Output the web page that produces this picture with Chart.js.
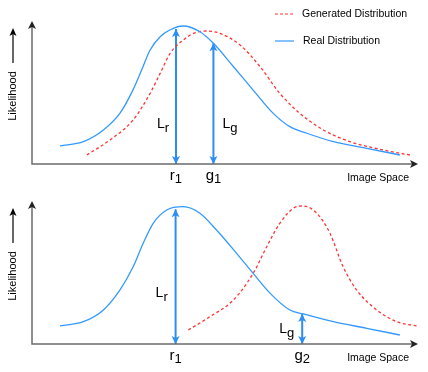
<!DOCTYPE html>
<html>
<head>
<meta charset="utf-8">
<script src="https://cdn.jsdelivr.net/npm/chart.js@4.4.1/dist/chart.umd.min.js"></script>
<style>
  body { margin: 0; background: #fff; }
  .panel { position: absolute; left: 0; width: 428px; height: 186px; }
</style>
</head>
<body>
<div class="panel" style="top:0"><canvas id="topChart" width="428" height="186"></canvas></div>
<div class="panel" style="top:186px"><canvas id="bottomChart" width="428" height="186"></canvas></div>
<script>
// Top panel: real vs generated distribution (close together)
const topRealX = [7.25, 13.3, 18.5, 22.8, 26.2, 28.4, 30.6, 33.2, 36.6, 39.2, 43.5, 47, 52.2, 57.3, 62.5, 66.8, 71.2, 78.1, 86.7, 95.3];
const topRealY = [12.6, 15.6, 23.8, 35.5, 52, 65.7, 79.7, 89, 94.9, 96.5, 92.5, 84.4, 68, 51.7, 35.4, 26.1, 21.5, 15.6, 11, 6.3];
const topGenX = [14.2, 20.2, 26.2, 30.6, 33.2, 35.8, 39.2, 42, 45, 48.7, 53.9, 59.1, 64.2, 69.4, 75.5, 82.4, 91, 97.9];
const topGenY = [6.3, 16.8, 30.8, 49.4, 63.4, 77.4, 86.7, 91.5, 93, 91.4, 83.2, 68, 49.4, 35.4, 23.8, 15.6, 9.8, 6.3];
const topArrowX = [37.3, 47];
const topArrowY = [94.4, 84.4];
const topArrowText = [['L', 'r'], ['L', 'g']];
const topTickText = [['r', '1'], ['g', '1']];

// Bottom panel: generated distribution shifted away
const botRealX = [7.25, 13.3, 18.5, 22.8, 26.2, 28.8, 31.4, 34.9, 39.2, 43.5, 47.8, 53, 57.3, 61.7, 66.8, 70.3, 78.1, 86.7, 95.3];
const botRealY = [12.6, 15.6, 23.8, 37.8, 54, 70.4, 84.4, 93.7, 96, 91.4, 79.7, 63.4, 49.4, 35.4, 23.8, 21, 15.6, 11, 6.3];
const botGenX = [40.5, 46.1, 52.2, 57.3, 60.8, 64.2, 67.7, 70.3, 73.8, 77.2, 80.6, 84.1, 89.3, 94.5, 99.7];
const botGenY = [9.8, 19.1, 30.8, 49.4, 68, 84.4, 94.9, 96.5, 91.4, 77.4, 54, 37.8, 23.8, 15.6, 12.6];
const botArrowX = [37.2, 70];
const botArrowY = [94.2, 21];
const botArrowText = [['L', 'r'], ['L', 'g']];
const botTickText = [['r', '1'], ['g', '2']];

const legendText = ['Generated Distribution', 'Real Distribution'];
const xAxisTitle = 'Image Space';
const yAxisTitle = 'Likelihood';

const BLUE = '#3399ff';
const ARROW_BLUE = '#2b8ef5';
const RED = '#ff3333';
const AXIS = '#6b6b6b';
const FONT = 'Arial, "Liberation Sans", sans-serif';

function points(xs, ys) {
  return xs.map((x, i) => ({ x: x, y: ys[i] }));
}

function arrowSets(xs, ys) {
  return xs.map((x, i) => ({
    data: [{ x: x, y: 0 }, { x: x, y: ys[i] }],
    borderColor: ARROW_BLUE,
    borderWidth: 2,
    pointRadius: 0,
    clip: false,
    arrow: true
  }));
}

function head(ctx, x, y, dir, len, half, color) {
  // dir: 'up' | 'down' | 'right'
  ctx.fillStyle = color;
  ctx.beginPath();
  if (dir === 'up') {
    ctx.moveTo(x, y); ctx.lineTo(x - half, y + len); ctx.lineTo(x, y + len - 2); ctx.lineTo(x + half, y + len);
  } else if (dir === 'down') {
    ctx.moveTo(x, y); ctx.lineTo(x - half, y - len); ctx.lineTo(x, y - len + 2); ctx.lineTo(x + half, y - len);
  } else {
    ctx.moveTo(x, y); ctx.lineTo(x - len, y - half); ctx.lineTo(x - len + 2, y); ctx.lineTo(x - len, y + half);
  }
  ctx.closePath();
  ctx.fill();
}

function subText(ctx, main, sub, x, y, mainSize, subSize, drop, align) {
  ctx.font = mainSize + 'px ' + FONT;
  const w1 = ctx.measureText(main).width;
  ctx.font = subSize + 'px ' + FONT;
  const w2 = ctx.measureText(sub).width;
  let left = x;
  if (align === 'center') left = x - (w1 + w2) / 2;
  ctx.textAlign = 'left';
  ctx.textBaseline = 'alphabetic';
  ctx.fillStyle = '#000';
  ctx.font = mainSize + 'px ' + FONT;
  ctx.fillText(main, left, y);
  ctx.font = subSize + 'px ' + FONT;
  ctx.fillText(sub, left + w1, y + drop);
}

const diagramPlugin = {
  id: 'diagram',
  afterDatasetsDraw(chart) {
    const ctx = chart.ctx;
    chart.data.datasets.forEach((ds, i) => {
      if (!ds.arrow) return;
      const pts = chart.getDatasetMeta(i).data;
      head(ctx, pts[0].x, pts[0].y, 'down', 8, 4, ARROW_BLUE);
      head(ctx, pts[1].x, pts[1].y, 'up', 8, 4, ARROW_BLUE);
    });
  },
  afterDraw(chart, args, opts) {
    const ctx = chart.ctx;
    const a = chart.chartArea;
    const xs = chart.scales.x;
    const ys = chart.scales.y;
    ctx.save();

    // axes with arrow heads
    ctx.strokeStyle = AXIS;
    ctx.lineWidth = 1.5;
    ctx.beginPath();
    ctx.moveTo(a.left, a.top + 4);
    ctx.lineTo(a.left, a.bottom);
    ctx.lineTo(a.right - 4, a.bottom);
    ctx.stroke();
    head(ctx, a.left, a.top, 'up', 8, 4, '#222');
    head(ctx, a.right, a.bottom, 'right', 8, 4, '#222');

    // y axis title with arrow
    ctx.save();
    ctx.translate(13, a.top + 75);
    ctx.rotate(-Math.PI / 2);
    ctx.fillStyle = '#000';
    ctx.font = '11px ' + FONT;
    ctx.textAlign = 'center';
    ctx.textBaseline = 'middle';
    ctx.fillText(yAxisTitle, 0, 0);
    ctx.restore();
    ctx.strokeStyle = '#000';
    ctx.lineWidth = 1.2;
    ctx.beginPath();
    ctx.moveTo(13, a.top + 42);
    ctx.lineTo(13, a.top + 12);
    ctx.stroke();
    head(ctx, 13, a.top + 7, 'up', 8, 3.5, '#000');

    // x axis title
    ctx.fillStyle = '#000';
    ctx.font = '10.5px ' + FONT;
    ctx.textAlign = 'right';
    ctx.textBaseline = 'middle';
    ctx.fillText(xAxisTitle, a.right - 9, a.bottom + 14);

    // tick labels under the arrows, and L labels next to them
    opts.arrowX.forEach((v, i) => {
      const px = xs.getPixelForValue(v);
      subText(ctx, opts.ticks[i][0], opts.ticks[i][1], px, a.bottom + 16, 15, 13, 3, 'center');
      const lab = opts.labels[i];
      const lx = px + lab.dx;
      const ly = ys.getPixelForValue(lab.y);
      subText(ctx, opts.text[i][0], opts.text[i][1], lx, ly, 14, 13, 4, 'left');
    });

    // legend (top panel only)
    if (opts.legend) {
      ctx.lineWidth = 1.2;
      ctx.strokeStyle = RED;
      ctx.setLineDash([3, 2]);
      ctx.beginPath(); ctx.moveTo(275, 14); ctx.lineTo(294, 14); ctx.stroke();
      ctx.setLineDash([]);
      ctx.strokeStyle = BLUE;
      ctx.beginPath(); ctx.moveTo(275, 41); ctx.lineTo(294, 41); ctx.stroke();
      ctx.fillStyle = '#000';
      ctx.font = '10.5px ' + FONT;
      ctx.textAlign = 'left';
      ctx.textBaseline = 'middle';
      ctx.fillText(legendText[0], 302, 14);
      ctx.fillText(legendText[1], 303, 41);
    }
    ctx.restore();
  }
};

function makeChart(id, realX, realY, genX, genY, arrowX, arrowY, ticks, text, labels, padding, legend) {
  return new Chart(document.getElementById(id), {
    type: 'line',
    data: {
      datasets: [
        {
          data: points(realX, realY),
          borderColor: BLUE,
          borderWidth: 1.3,
          pointRadius: 0,
          cubicInterpolationMode: 'monotone',
          clip: false
        },
        {
          data: points(genX, genY),
          borderColor: RED,
          borderWidth: 1.3,
          borderDash: [3, 2.5],
          pointRadius: 0,
          cubicInterpolationMode: 'monotone',
          clip: false
        }
      ].concat(arrowSets(arrowX, arrowY))
    },
    options: {
      responsive: false,
      animation: false,
      devicePixelRatio: 1,
      layout: { padding: padding },
      scales: {
        x: { type: 'linear', min: 0, max: 100, display: false },
        y: { min: 0, max: 100, display: false }
      },
      plugins: {
        legend: { display: false },
        tooltip: { enabled: false },
        diagram: { arrowX: arrowX, ticks: ticks, text: text, labels: labels, legend: legend }
      }
    },
    plugins: [diagramPlugin]
  });
}

makeChart('topChart', topRealX, topRealY, topGenX, topGenY, topArrowX, topArrowY,
  topTickText, topArrowText, [{ dx: -19, y: 25 }, { dx: 9, y: 25 }],
  { left: 32, right: 10, top: 21, bottom: 22 }, true);

makeChart('bottomChart', botRealX, botRealY, botGenX, botGenY, botArrowX, botArrowY,
  botTickText, botArrowText, [{ dx: -20, y: 33 }, { dx: -23, y: 7.5 }],
  { left: 32, right: 10, top: 15, bottom: 28 }, false);
</script>
</body>
</html>
